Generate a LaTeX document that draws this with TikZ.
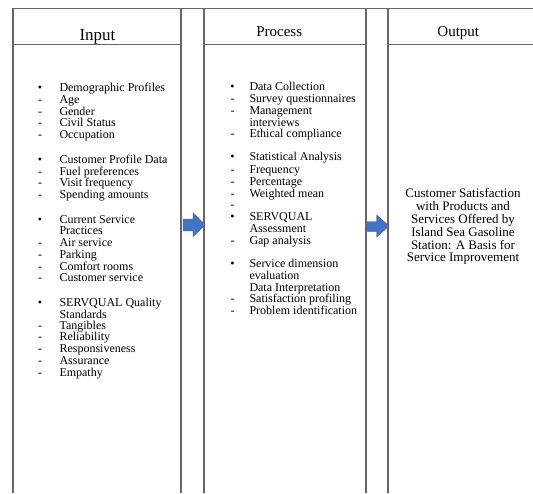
\documentclass[tikz,border=0pt]{standalone}
\usepackage{fontspec}
\setmainfont{Liberation Serif}
\definecolor{arrowblue}{HTML}{4472C4}
\begin{document}
\begin{tikzpicture}[x=1pt,y=-1pt,
  frame/.style={draw=black!60, line width=1.1pt},
  body/.style={font=\fontsize{12}{14}\selectfont, inner sep=0pt, anchor=base west},
  marker/.style={font=\fontsize{12}{14}\selectfont, inner sep=0pt, anchor=base},
  head/.style={inner sep=0pt, anchor=base},
  blockarrow/.style={fill=arrowblue, draw=arrowblue!85!black, line width=0.4pt}]
\useasboundingbox (0,0) rectangle (533,493);
% frame lines
\draw[frame] (13,8.3) -- (533,8.3);
\foreach \x in {13,181,204,366,388} \draw[frame] (\x,8.3) -- (\x,493);
\draw[frame] (13,44.5) -- (181,44.5) (204,44.5) -- (366,44.5) (388,44.5) -- (533,44.5);
% headers
\node[head, font=\fontsize{17}{20}\selectfont] (hin) at (97.5,40) {Input};
\node[head, font=\fontsize{15}{18}\selectfont] (hpr) at (279.2,36.7) {Process};
\node[head, font=\fontsize{15}{18}\selectfont] (hout) at (458.3,36.5) {Output};
% input column
\foreach \m/\y/\t [count=\i] in {
  •/88.3/Demographic Profiles, -/100/Age, -/111.7/Gender, -/123.3/Civil Status, -/135/Occupation,
  •/160/Customer Profile Data, -/171.7/Fuel preferences, -/183.3/Visit frequency, -/195/Spending amounts,
  •/220/Current Service, {}/231.5/Practices, -/242.7/Air service, -/254.7/Parking, -/266.7/Comfort rooms, -/278.3/Customer service,
  •/303.3/SERVQUAL Quality, {}/314.8/Standards, -/326/Tangibles, -/337.5/Reliability, -/349.5/Responsiveness, -/361.5/Assurance, -/373.3/Empathy}
{
  \node[marker] (inm\i) at (40,\y+3.3) {\m};
  \node[body] (int\i) at (59.3,\y+3.3) {\t};
}
% process column
\foreach \m/\y/\t [count=\i] in {
  •/87.3/Data Collection, -/99.3/Survey questionnaires, -/111.2/Management, {}/122.7/interviews, -/134.5/Ethical compliance,
  •/157/Statistical Analysis, -/170/Frequency, -/182/Percentage, -/193.7/Weighted mean, -/205/{},
  •/217.3/SERVQUAL, {}/229.3/Assessment, -/240.7/Gap analysis,
  •/264.3/Service dimension, {}/276/evaluation, {}/287.7/Data Interpretation, -/299.3/Satisfaction profiling, -/311.3/Problem identification}
{
  \node[marker] (prm\i) at (232.5,\y+3.3) {\m};
  \node[body] (prt\i) at (249.3,\y+3.3) {\t};
}
% output text
\node[inner sep=0pt, align=center, font=\fontsize{13}{12.8}\selectfont] (outt) at (463,226.8)
  {Customer Satisfaction\\with Products and\\Services Offered by\\Island Sea Gasoline\\Station: A Basis for\\Service Improvement};
% block arrows
\fill[blockarrow] (183,219) -- (193,219) -- (193,212.7) -- (205,224.8) -- (193,236.7) -- (193,230.8) -- (183,230.8) -- cycle;
\fill[blockarrow] (366.7,221.5) -- (376.7,221.5) -- (376.7,215) -- (389,226) -- (376.7,237) -- (376.7,231.5) -- (366.7,231.5) -- cycle;
\end{tikzpicture}
\end{document}
